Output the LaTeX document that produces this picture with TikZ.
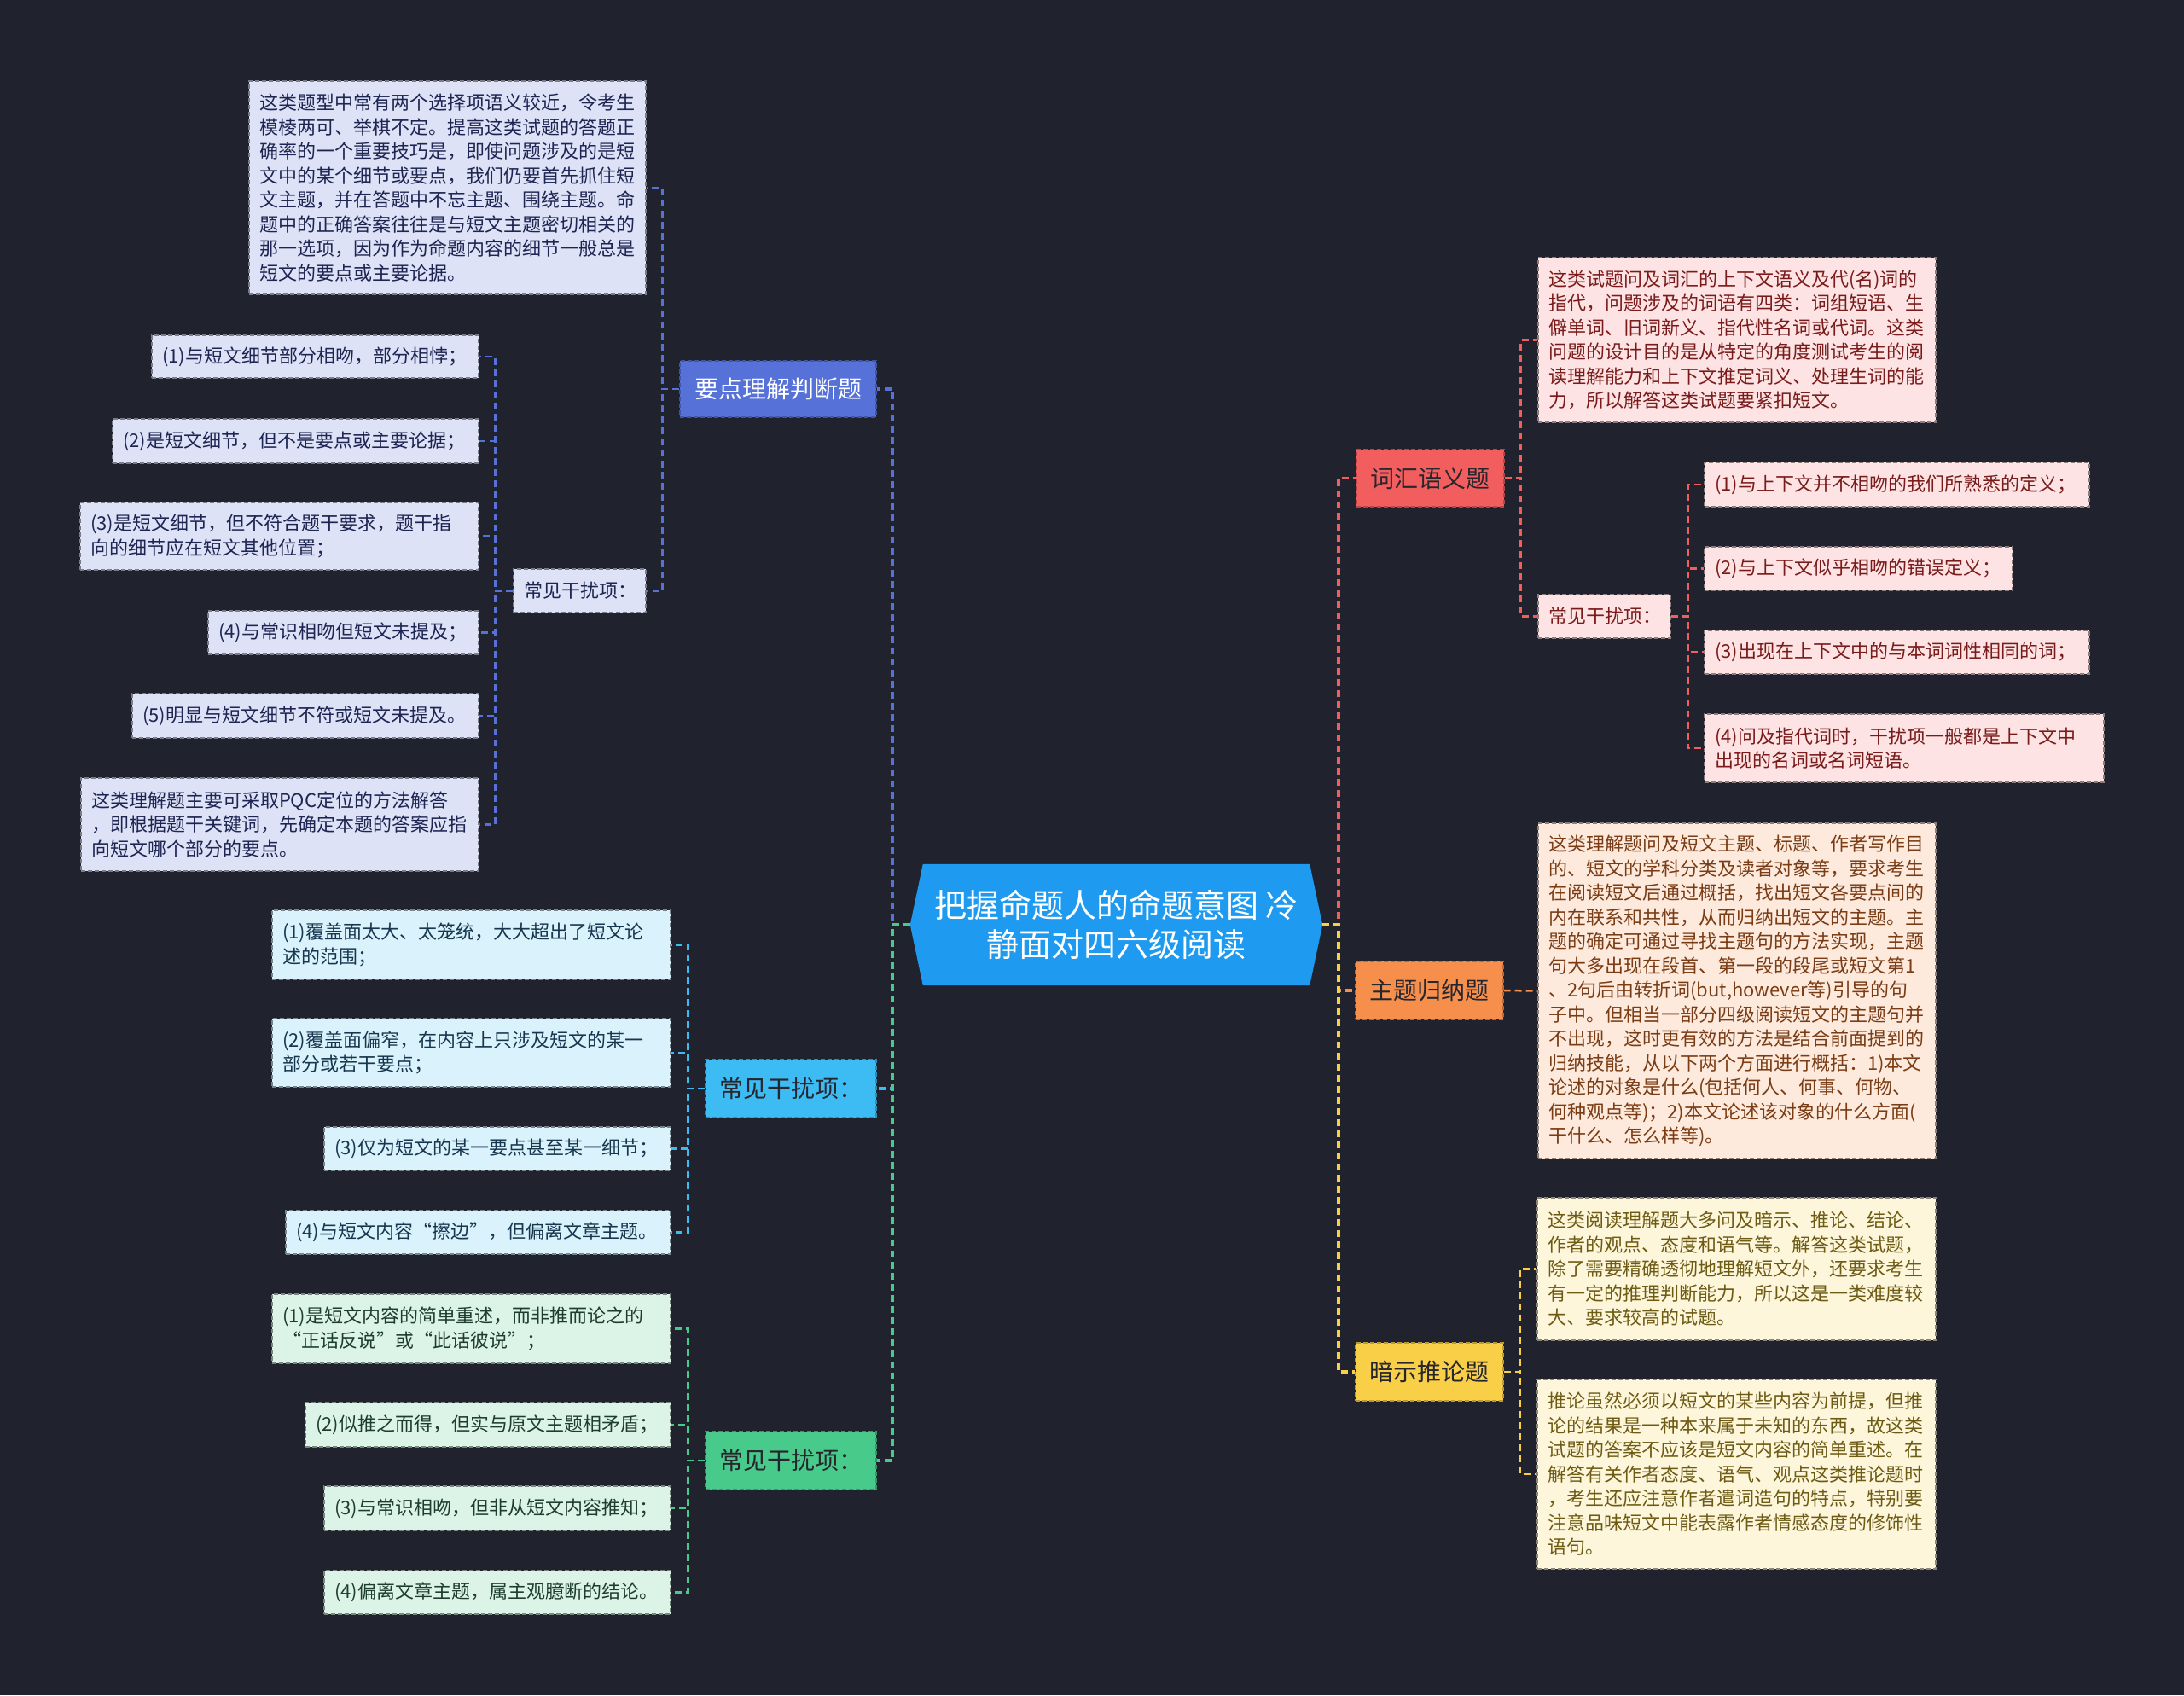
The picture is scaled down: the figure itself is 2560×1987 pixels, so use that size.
\documentclass[tikz,border=0pt]{standalone}
\usepackage{fontspec}
\setmainfont{Noto Sans CJK SC}
\usepackage{tikz}
\usetikzlibrary{backgrounds}
\usepackage{xcolor}
\definecolor{canvas}{HTML}{20222E}
\definecolor{rootBlue}{HTML}{1E9BF0}
\definecolor{topicInk}{HTML}{26262E}
\definecolor{kpMain}{HTML}{5672D8}
\definecolor{kpPale}{HTML}{DDE2F6}
\definecolor{kpInk}{HTML}{1D2552}
\definecolor{cyMain}{HTML}{3DBBF3}
\definecolor{cyPale}{HTML}{D9F2FC}
\definecolor{cyInk}{HTML}{17374F}
\definecolor{grMain}{HTML}{48CA8B}
\definecolor{grPale}{HTML}{DCF4E8}
\definecolor{grInk}{HTML}{1D3D2E}
\definecolor{voMain}{HTML}{F25D5D}
\definecolor{voPale}{HTML}{FDE3E3}
\definecolor{voInk}{HTML}{7A1B1B}
\definecolor{thMain}{HTML}{F78F4C}
\definecolor{thPale}{HTML}{FDEADD}
\definecolor{thInk}{HTML}{7A3C14}
\definecolor{inMain}{HTML}{F8CF46}
\definecolor{inPale}{HTML}{FDF6DA}
\definecolor{inInk}{HTML}{6D5B14}
\tikzset{
  base/.style={font=\fontsize{22}{28.5}\selectfont},
  boxline/.style={draw, line width=1.3pt, dash pattern=on 5pt off 3pt},
  leaf/.style={base, boxline, align=left, inner xsep=12pt, inner ysep=3pt},
  topic/.style={boxline, font=\fontsize{28}{34}\selectfont, align=center, inner sep=4pt, text=topicInk},
  rootnode/.style={font=\fontsize{38}{46}\selectfont, text=white, align=center, inner sep=0pt},
  link/.style={line width=2.5pt, dash pattern=on 8pt off 5pt},
  mainlink/.style={line width=3.5pt, dash pattern=on 8pt off 5pt},
  kpleaf/.style={leaf, fill=kpPale, draw=kpPale!55!black, text=kpInk},
  cyleaf/.style={leaf, fill=cyPale, draw=cyPale!55!black, text=cyInk},
  grleaf/.style={leaf, fill=grPale, draw=grPale!55!black, text=grInk},
  voleaf/.style={leaf, fill=voPale, draw=voPale!55!black, text=voInk},
  thleaf/.style={leaf, fill=thPale, draw=thPale!55!black, text=thInk},
  inleaf/.style={leaf, fill=inPale, draw=inPale!55!black, text=inInk},
}

\begin{document}
\begin{tikzpicture}[x=1pt,y=-1pt]
  \node[rootnode,minimum width=483pt,minimum height=142pt] (root) at (1308.5,1084) {把握命题人的命题意图 冷\\静面对四六级阅读};

  \node[topic,fill=kpMain,draw=kpMain!75!black,text=white,minimum width=230pt,minimum height=66pt] (kp) at (912,456) {要点理解判断题};
  \node[kpleaf,text width=441pt,minimum height=250pt] (kpnote) at (524.5,220) {这类题型中常有两个选择项语义较近，令考生\\模棱两可、举棋不定。提高这类试题的答题正\\确率的一个重要技巧是，即使问题涉及的是短\\文中的某个细节或要点，我们仍要首先抓住短\\文主题，并在答题中不忘主题、围绕主题。命\\题中的正确答案往往是与短文主题密切相关的\\那一选项，因为作为命题内容的细节一般总是\\短文的要点或主要论据。};
  \node[kpleaf,text width=131pt,minimum height=51pt] (kpmis) at (679.5,692.5) {常见干扰项：};
  \node[kpleaf,text width=359pt,minimum height=50pt] (kpa) at (369.5,418) {(1)与短文细节部分相吻，部分相悖；};
  \node[kpleaf,text width=405pt,minimum height=52pt] (kpb) at (346.5,517) {(2)是短文细节，但不是要点或主要论据；};
  \node[kpleaf,text width=443pt,minimum height=79pt] (kpc) at (327.5,628.5) {(3)是短文细节，但不符合题干要求，题干指\\向的细节应在短文其他位置；};
  \node[kpleaf,text width=293pt,minimum height=51pt] (kpd) at (402.5,741.5) {(4)与常识相吻但短文未提及；};
  \node[kpleaf,text width=382pt,minimum height=52pt] (kpe) at (358,839) {(5)明显与短文细节不符或短文未提及。};
  \node[kpleaf,text width=442pt,minimum height=109pt] (kpf) at (328,966.5) {这类理解题主要可采取PQC定位的方法解答\\，即根据题干关键词，先确定本题的答案应指\\向短文哪个部分的要点。};

  \node[topic,fill=cyMain,draw=cyMain!75!black,minimum width=200pt,minimum height=68pt] (cy) at (927,1276) {常见干扰项：};
  \node[cyleaf,text width=443pt,minimum height=81pt] (cya) at (552.5,1107.5) {(1)覆盖面太大、太笼统，大大超出了短文论\\述的范围；};
  \node[cyleaf,text width=443pt,minimum height=80pt] (cyb) at (552.5,1234) {(2)覆盖面偏窄，在内容上只涉及短文的某一\\部分或若干要点；};
  \node[cyleaf,text width=382pt,minimum height=51pt] (cyc) at (583,1346.5) {(3)仅为短文的某一要点甚至某一细节；};
  \node[cyleaf,text width=427pt,minimum height=51pt] (cyd) at (560.5,1444.5) {(4)与短文内容“擦边”，但偏离文章主题。};

  \node[topic,fill=grMain,draw=grMain!75!black,minimum width=200pt,minimum height=68pt] (gr) at (927,1712) {常见干扰项：};
  \node[grleaf,text width=443pt,minimum height=81pt] (gra) at (552.5,1557.5) {(1)是短文内容的简单重述，而非推而论之的\\“正话反说”或“此话彼说”；};
  \node[grleaf,text width=404pt,minimum height=52pt] (grb) at (572,1670) {(2)似推之而得，但实与原文主题相矛盾；};
  \node[grleaf,text width=382pt,minimum height=52pt] (grc) at (583,1768) {(3)与常识相吻，但非从短文内容推知；};
  \node[grleaf,text width=382pt,minimum height=51pt] (grd) at (583,1866.5) {(4)偏离文章主题，属主观臆断的结论。};

  \node[topic,fill=voMain,draw=voMain!75!black,minimum width=173pt,minimum height=67pt] (vo) at (1676.5,560.5) {词汇语义题};
  \node[voleaf,text width=442pt,minimum height=193pt] (vonote) at (2036,398.5) {这类试题问及词汇的上下文语义及代(名)词的\\指代，问题涉及的词语有四类：词组短语、生\\僻单词、旧词新义、指代性名词或代词。这类\\问题的设计目的是从特定的角度测试考生的阅\\读理解能力和上下文推定词义、处理生词的能\\力，所以解答这类试题要紧扣短文。};
  \node[voleaf,text width=131pt,minimum height=51pt] (vomis) at (1880.5,722.5) {常见干扰项：};
  \node[voleaf,text width=427pt,minimum height=52pt] (voa) at (2223.5,568) {(1)与上下文并不相吻的我们所熟悉的定义；};
  \node[voleaf,text width=337pt,minimum height=51pt] (vob) at (2178.5,666.5) {(2)与上下文似乎相吻的错误定义；};
  \node[voleaf,text width=427pt,minimum height=51pt] (voc) at (2223.5,764.5) {(3)出现在上下文中的与本词词性相同的词；};
  \node[voleaf,text width=444pt,minimum height=80pt] (vod) at (2232,877) {(4)问及指代词时，干扰项一般都是上下文中\\出现的名词或名词短语。};

  \node[topic,fill=thMain,draw=thMain!75!black,minimum width=173pt,minimum height=68pt] (th) at (1675.5,1161) {主题归纳题};
  \node[thleaf,text width=442pt,minimum height=393pt] (thnote) at (2036,1161.5) {这类理解题问及短文主题、标题、作者写作目\\的、短文的学科分类及读者对象等，要求考生\\在阅读短文后通过概括，找出短文各要点间的\\内在联系和共性，从而归纳出短文的主题。主\\题的确定可通过寻找主题句的方法实现，主题\\句大多出现在段首、第一段的段尾或短文第1\\、2句后由转折词(but,however等)引导的句\\子中。但相当一部分四级阅读短文的主题句并\\不出现，这时更有效的方法是结合前面提到的\\归纳技能，从以下两个方面进行概括：1)本文\\论述的对象是什么(包括何人、何事、何物、\\何种观点等)；2)本文论述该对象的什么方面(\\干什么、怎么样等)。};

  \node[topic,fill=inMain,draw=inMain!75!black,minimum width=173pt,minimum height=68pt] (inf) at (1675.5,1608) {暗示推论题};
  \node[inleaf,text width=443pt,minimum height=167pt] (infa) at (2035.5,1487.5) {这类阅读理解题大多问及暗示、推论、结论、\\作者的观点、态度和语气等。解答这类试题，\\除了需要精确透彻地理解短文外，还要求考生\\有一定的推理判断能力，所以这是一类难度较\\大、要求较高的试题。};
  \node[inleaf,text width=443pt,minimum height=222pt] (infb) at (2035.5,1728) {推论虽然必须以短文的某些内容为前提，但推\\论的结果是一种本来属于未知的东西，故这类\\试题的答案不应该是短文内容的简单重述。在\\解答有关作者态度、语气、观点这类推论题时\\，考生还应注意作者遣词造句的特点，特别要\\注意品味短文中能表露作者情感态度的修饰性\\语句。};

  \begin{scope}[on background layer]
    \fill[canvas] (0,0) rectangle (2560,1987);
    \fill[rootBlue] (root.west) -- ([xshift=15pt]root.north west) -- ([xshift=-15pt]root.north east) -- (root.east) -- ([xshift=-15pt]root.south east) -- ([xshift=15pt]root.south west) -- cycle;
  \end{scope}

  \draw[mainlink,kpMain] (root.west) -- ++(-21,0) |- (kp.east);
  \draw[mainlink,cyMain] (root.west) -- ++(-21,0) |- (cy.east);
  \draw[mainlink,grMain] (root.west) -- ++(-21,0) |- (gr.east);
  \draw[mainlink,voMain] (root.east) -- ++(19,0) |- (vo.west);
  \draw[mainlink,thMain] (root.east) -- ++(19,0) |- (th.west);
  \draw[mainlink,inMain] (root.east) -- ++(19,0) |- (inf.west);

  \draw[link,kpMain] (kp.west) -- ++(-20,0) |- (kpnote.east);
  \draw[link,kpMain] (kp.west) -- ++(-20,0) |- (kpmis.east);
  \draw[link,kpMain] (kpmis.west) -- ++(-21,0) |- (kpa.east);
  \draw[link,kpMain] (kpmis.west) -- ++(-21,0) |- (kpb.east);
  \draw[link,kpMain] (kpmis.west) -- ++(-21,0) |- (kpc.east);
  \draw[link,kpMain] (kpmis.west) -- ++(-21,0) |- (kpd.east);
  \draw[link,kpMain] (kpmis.west) -- ++(-21,0) |- (kpe.east);
  \draw[link,kpMain] (kpmis.west) -- ++(-21,0) |- (kpf.east);

  \draw[link,cyMain] (cy.west) -- ++(-20,0) |- (cya.east);
  \draw[link,cyMain] (cy.west) -- ++(-20,0) |- (cyb.east);
  \draw[link,cyMain] (cy.west) -- ++(-20,0) |- (cyc.east);
  \draw[link,cyMain] (cy.west) -- ++(-20,0) |- (cyd.east);

  \draw[link,grMain] (gr.west) -- ++(-20,0) |- (gra.east);
  \draw[link,grMain] (gr.west) -- ++(-20,0) |- (grb.east);
  \draw[link,grMain] (gr.west) -- ++(-20,0) |- (grc.east);
  \draw[link,grMain] (gr.west) -- ++(-20,0) |- (grd.east);

  \draw[link,voMain] (vo.east) -- ++(19,0) |- (vonote.west);
  \draw[link,voMain] (vo.east) -- ++(19,0) |- (vomis.west);
  \draw[link,voMain] (vomis.east) -- ++(20,0) |- (voa.west);
  \draw[link,voMain] (vomis.east) -- ++(20,0) |- (vob.west);
  \draw[link,voMain] (vomis.east) -- ++(20,0) |- (voc.west);
  \draw[link,voMain] (vomis.east) -- ++(20,0) |- (vod.west);

  \draw[link,thMain] (th.east) -- (thnote.west);

  \draw[link,inMain] (inf.east) -- ++(19,0) |- (infa.west);
  \draw[link,inMain] (inf.east) -- ++(19,0) |- (infb.west);
\end{tikzpicture}
\end{document}
